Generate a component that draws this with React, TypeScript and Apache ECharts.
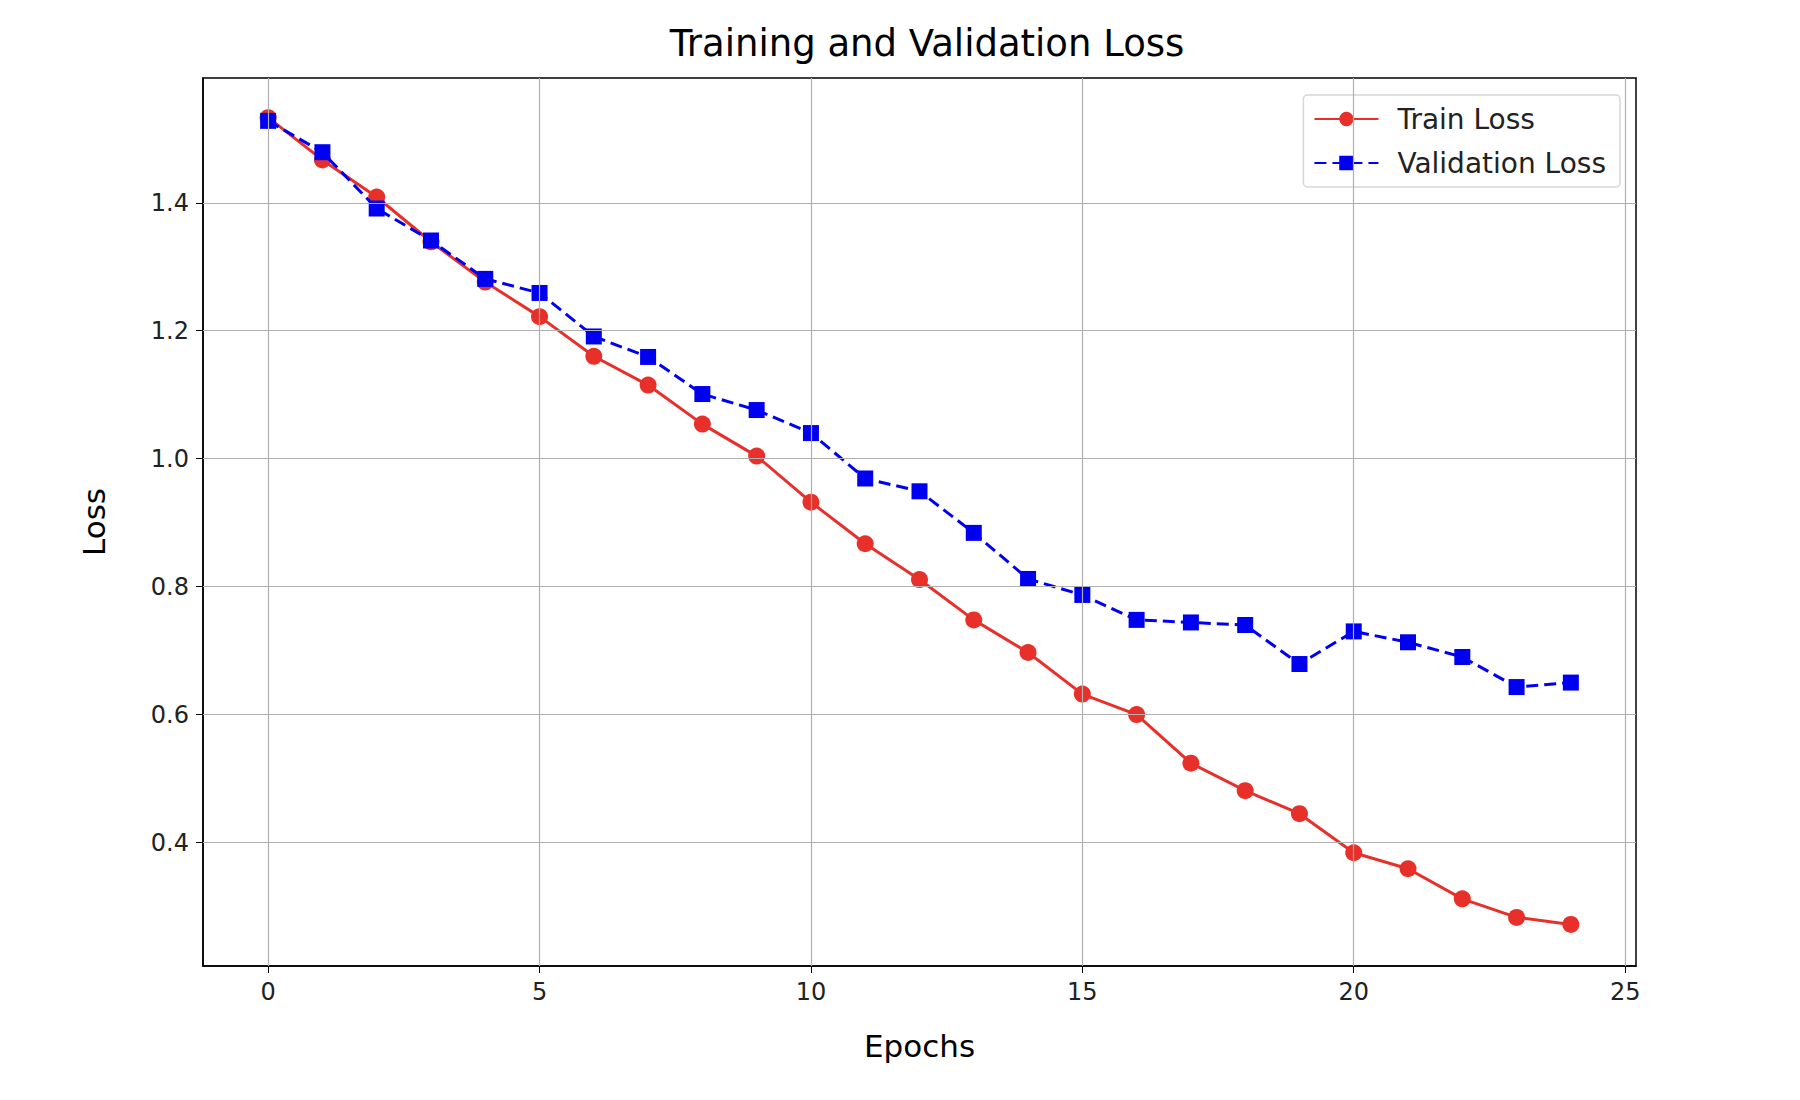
import { useEffect, useRef } from "react";
import * as echarts from "echarts";

const EPOCHS = Array.from({ length: 25 }, (_, i) => i);
const TRAIN_LOSS = [
  1.533, 1.467, 1.409, 1.339, 1.276, 1.222, 1.16, 1.115, 1.054, 1.004, 0.932, 0.867, 0.811,
  0.748, 0.697, 0.632, 0.6, 0.524, 0.481, 0.445, 0.384, 0.359, 0.312, 0.283, 0.272,
];
const VAL_LOSS = [
  1.528, 1.479, 1.391, 1.341, 1.281, 1.259, 1.191, 1.159, 1.101, 1.076, 1.04, 0.969, 0.949,
  0.884, 0.812, 0.787, 0.748, 0.744, 0.74, 0.679, 0.73, 0.713, 0.69, 0.643, 0.65,
];
const X_TICKS = [0, 5, 10, 15, 20, 25];
const Y_TICKS = [0.4, 0.6, 0.8, 1.0, 1.2, 1.4];

const FONT = "DejaVu Sans";

export default function App() {
  const ref = useRef<HTMLDivElement>(null);

  useEffect(() => {
    if (!ref.current) return;
    const chart = echarts.init(ref.current, undefined, { renderer: "svg" });
    const gridStyle = { color: "#b0b0b0", width: 1.2, type: "solid" as const };
    chart.setOption({
      animation: false,
      backgroundColor: "#fff",
      textStyle: { fontFamily: FONT },
      title: {
        text: "Training and Validation Loss",
        left: 922,
        top: 20,
        textAlign: "center",
        textStyle: { fontFamily: FONT, fontSize: 37, fontWeight: "normal", color: "#000" },
      },
      grid: {
        left: 203,
        right: 164,
        top: 78,
        bottom: 134,
        show: true,
        borderColor: "#000",
        borderWidth: 1.5,
        backgroundColor: "transparent",
      },
      legend: {
        right: 180,
        top: 95,
        orient: "vertical",
        itemGap: 16,
        itemWidth: 64,
        itemHeight: 18,
        padding: [10, 14, 10, 10],
        borderColor: "#d6d6d6",
        borderWidth: 1.5,
        borderRadius: 4,
        textStyle: { fontFamily: FONT, fontSize: 28, color: "#222", padding: [0, 0, 0, 14] },
        data: ["Train Loss", "Validation Loss"],
      },
      xAxis: {
        type: "value",
        min: -1.2,
        max: 25.2,
        name: "Epochs",
        nameLocation: "middle",
        nameGap: 64,
        nameTextStyle: { fontFamily: FONT, fontSize: 31, color: "#000" },
        axisLine: { show: true, onZero: false, lineStyle: { color: "#000", width: 1.5 } },
        axisTick: { show: true, customValues: X_TICKS, length: 7, lineStyle: { color: "#000" } },
        axisLabel: { customValues: X_TICKS, fontSize: 24, color: "#222", margin: 14 },
        splitLine: { show: false },
      },
      yAxis: {
        type: "value",
        min: 0.207,
        max: 1.595,
        name: "Loss",
        nameLocation: "middle",
        nameGap: 94,
        nameTextStyle: { fontFamily: FONT, fontSize: 31, color: "#000" },
        axisLine: { show: true, onZero: false, lineStyle: { color: "#000", width: 1.5 } },
        axisTick: { show: true, customValues: Y_TICKS, length: 7, lineStyle: { color: "#000" } },
        axisLabel: {
          customValues: Y_TICKS,
          fontSize: 24,
          color: "#222",
          margin: 14,
          formatter: (v: number) => v.toFixed(1),
        },
        splitLine: { show: false },
      },
      series: [
        {
          name: "grid",
          type: "line",
          data: [],
          silent: true,
          markLine: {
            silent: true,
            symbol: "none",
            label: { show: false },
            lineStyle: gridStyle,
            data: [
              ...X_TICKS.map((x) => ({ xAxis: x })),
              ...Y_TICKS.map((y) => ({ yAxis: y })),
            ],
          },
        },
        {
          name: "Train Loss",
          type: "line",
          data: EPOCHS.map((e, i) => [e, TRAIN_LOSS[i]]),
          symbol: "circle",
          symbolSize: 17,
          color: "#e8302a",
          lineStyle: { width: 3, color: "#e8302a" },
          itemStyle: { color: "#e8302a" },
          z: 3,
        },
        {
          name: "Validation Loss",
          type: "line",
          data: EPOCHS.map((e, i) => [e, VAL_LOSS[i]]),
          symbol: "rect",
          symbolSize: 16,
          color: "#0000f0",
          lineStyle: { width: 3, type: [12, 6], color: "#0000f0" },
          itemStyle: { color: "#0000f0" },
          z: 4,
        },
      ],
    });
    return () => chart.dispose();
  }, []);

  return (
    <div
      ref={ref}
      style={{ position: "fixed", left: 0, top: 0, width: 1800, height: 1100, background: "#fff" }}
    />
  );
}
